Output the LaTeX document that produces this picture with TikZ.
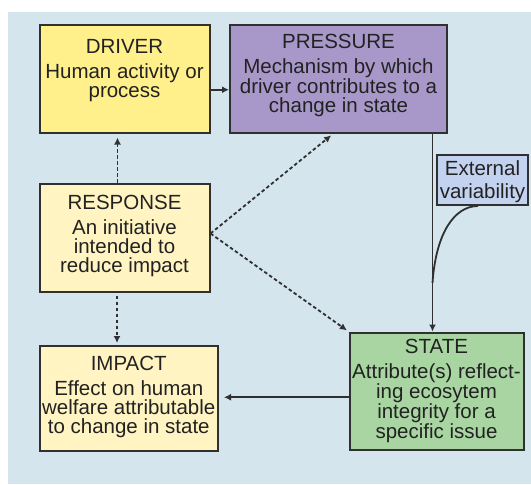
\documentclass[tikz,border=0pt]{standalone}
\usepackage{fontspec}
\setmainfont{Liberation Sans}
\usetikzlibrary{arrows.meta,calc}
\definecolor{bgblue}{HTML}{D4E5EE}
\definecolor{driverfill}{HTML}{FFF08C}
\definecolor{pressurefill}{HTML}{A898CA}
\definecolor{palefill}{HTML}{FFF4C2}
\definecolor{statefill}{HTML}{A8D5A2}
\definecolor{extfill}{HTML}{C3D3EF}
\definecolor{edge}{HTML}{303030}
\definecolor{ink}{HTML}{222222}
\begin{document}
\begin{tikzpicture}[x=1pt,y=-1pt,
  box/.style={draw=edge,line width=2pt,inner sep=0pt},
  boxtext/.style={align=center,anchor=north,inner sep=0pt,text=ink,
    font=\fontsize{20.5}{19}\selectfont},
  flow/.style={draw=edge,line width=1.8pt,-{Latex[length=7pt,width=7pt]}},
  dflow/.style={flow,dash pattern=on 3.5pt off 2.5pt}]
\useasboundingbox (0,0) rectangle (531,485);
\fill[bgblue] (8,12) rectangle (531,484);

% boxes
\node[box,fill=driverfill,minimum width=170pt,minimum height=107.5pt] (driver) at (124.5,78.75) {};
\node[box,fill=pressurefill,minimum width=217pt,minimum height=107.5pt] (pressure) at (338.5,78.75) {};
\node[box,fill=palefill,minimum width=170pt,minimum height=108pt] (response) at (124.5,237.5) {};
\node[box,fill=palefill,minimum width=178.5pt,minimum height=105pt] (impact) at (128.75,398.5) {};
\node[box,fill=statefill,minimum width=174pt,minimum height=117.5pt] (state) at (436.5,391.25) {};
\node[box,fill=extfill,minimum width=91pt,minimum height=50pt] (ext) at (482.5,180) {};

% texts
\node[boxtext] (drivertext) at (124.5,39.3) {DRIVER\\[6pt]Human activity or\\process};
\node[boxtext] (pressuretext) at (338.5,33.6) {PRESSURE\\[6pt]Mechanism by which\\driver contributes to a\\change in state};
\node[boxtext] (responsetext) at (124.5,195.3) {RESPONSE\\[6pt]An initiative\\intended to\\reduce impact};
\node[boxtext] (impacttext) at (128.75,355.8) {IMPACT\\[6pt]Effect on human\\welfare attributable\\to change in state};
\node[boxtext] (statetext) at (436.5,338.6) {STATE\\[6pt]Attribute(s) reflect-\\ing ecosytem\\integrity for a\\specific issue};
\node[boxtext,font=\fontsize{20.5}{23}\selectfont] (exttext) at (482.5,160.3) {External\\variability};

% connectors
\draw[flow] ([yshift=-11pt]driver.east) -- ([yshift=-11pt]pressure.west);
\draw[flow] ([xshift=94pt]pressure.south) -- ([xshift=94pt]pressure.south |- state.north);
\coordinate (join) at (432.5,283);
\draw[edge,line width=1.8pt] ([xshift=-4.5pt]ext.south) .. controls (455,206) and (436,232) .. (join);
\draw[dflow,shorten >=4pt] ([xshift=-7pt]response.north) -- ([xshift=-7pt]driver.south);
\draw[dflow,shorten <=3pt,shorten >=2pt] ([xshift=-7.5pt]response.south) -- ([xshift=-7.5pt]response.south |- impact.north);
\draw[dflow,shorten >=3pt] ([yshift=4pt]response.east) -- ([xshift=-5pt]pressure.south);
\draw[dflow,shorten >=2pt] ([yshift=4pt]response.east) -- (state.north west);
\draw[flow,shorten >=5pt] ([yshift=-6pt]state.west) -- ([yshift=-6pt]state.west -| impact.east);
\end{tikzpicture}
\end{document}
